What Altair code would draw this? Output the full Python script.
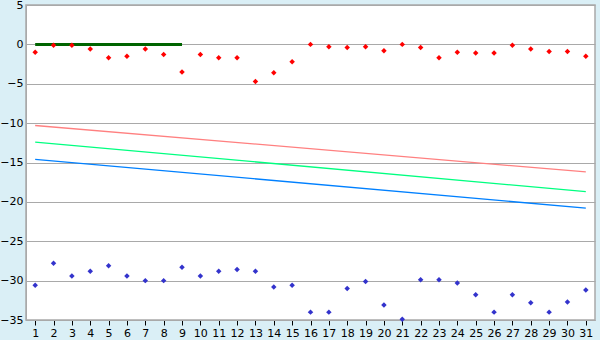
import altair as alt
import pandas as pd

days = list(range(1, 32))
red_vals = [-1.0, -0.1, -0.1, -0.6, -1.7, -1.5, -0.6, -1.3, -3.5, -1.3,
            -1.7, -1.7, -4.7, -3.6, -2.2, 0.0, -0.3, -0.4, -0.3, -0.8,
            0.0, -0.4, -1.7, -1.0, -1.1, -1.1, -0.1, -0.6, -0.9, -0.9, -1.5]
blue_vals = [-30.6, -27.8, -29.4, -28.8, -28.1, -29.4, -30.0, -30.0, -28.3, -29.4,
             -28.8, -28.6, -28.8, -30.8, -30.6, -34.0, -34.0, -31.0, -30.1, -33.1,
             -34.9, -29.9, -29.9, -30.3, -31.8, -34.0, -31.8, -32.8, -34.0, -32.7, -31.2]
y_ticks = [-35, -30, -25, -20, -15, -10, -5, 0, 5]

trend_x = [1, 31]
trend_red = [-10.3, -16.2]
trend_green = [-12.4, -18.7]
trend_blue = [-14.6, -20.8]

ref_x = [1, 9]
ref_y = [0, 0]

pts = pd.DataFrame({"day": days * 2,
                    "value": red_vals + blue_vals,
                    "series": ["red"] * 31 + ["blue"] * 31})
trends = pd.DataFrame({"day": trend_x * 3,
                       "value": trend_red + trend_green + trend_blue,
                       "series": ["tr"] * 2 + ["tg"] * 2 + ["tb"] * 2})
ref = pd.DataFrame({"day": ref_x, "value": ref_y})

xscale = alt.Scale(domain=[0.5, 31.5], nice=False, zero=False)
yscale = alt.Scale(domain=[-35, 5], nice=False, zero=False)

xax = alt.Axis(values=days, format="d", title=None, grid=False,
               tickColor="#000000", tickSize=5, domainColor="#A9A9A9",
               labelFont="DejaVu Sans", labelFontSize=11, labelColor="#000000",
               labelPadding=2, labelOverlap=False, labelFlush=False)
yax = alt.Axis(values=y_ticks, format="d", title=None, grid=True,
               gridColor="#A9A9A9", tickSize=0,
               domainColor="#A9A9A9", labelFont="DejaVu Sans", labelFontSize=11,
               labelColor="#000000", labelPadding=3, labelOverlap=False,
               labelFlush=False)

X = alt.X("day:Q", scale=xscale, axis=xax)
Y = alt.Y("value:Q", scale=yscale, axis=yax)

color_scale = alt.Scale(domain=["red", "blue", "tr", "tg", "tb"],
                        range=["#FF0000", "#3333CC", "#FF8080", "#00FF80", "#0080FF"])

lines = alt.Chart(trends).mark_line(strokeWidth=1.3).encode(
    x=X, y=Y,
    color=alt.Color("series:N", scale=color_scale, legend=None),
    detail="series:N",
)

refline = alt.Chart(ref).mark_line(strokeWidth=3, color="#006400").encode(
    x=X, y=Y,
)

points = alt.Chart(pts).mark_point(shape="diamond", filled=True, size=30, opacity=1).encode(
    x=X, y=Y,
    color=alt.Color("series:N", scale=color_scale, legend=None),
)

chart = alt.layer(lines, refline, points).properties(
    width=569, height=315,
    background="#DAEFF6",
    padding={"left": 26, "top": 5, "right": 5, "bottom": 20},
    autosize=alt.AutoSizeParams(type="none"),
).configure_view(fill="#FFFFFF", stroke="#A9A9A9", strokeWidth=1.5)

chart.save("out.html", embed_options={"renderer": "svg", "actions": False})
